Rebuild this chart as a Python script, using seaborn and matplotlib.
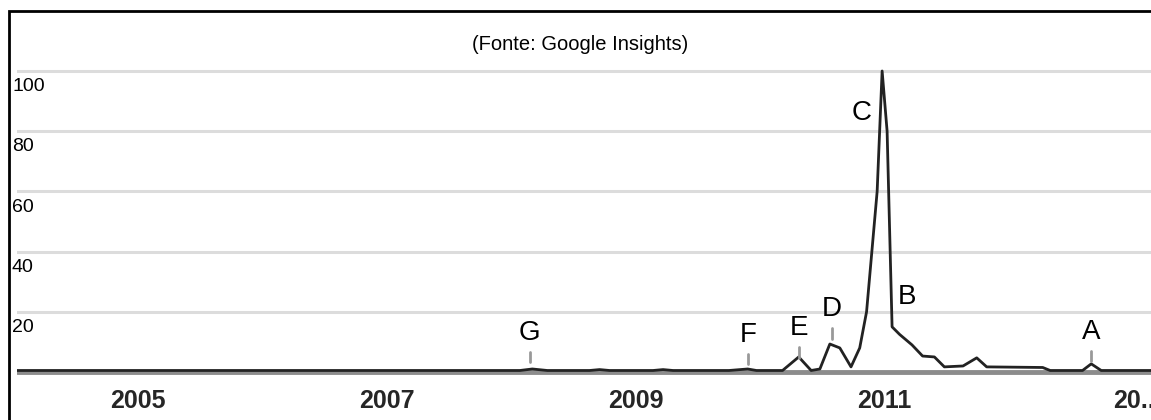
import matplotlib
matplotlib.use('Agg')
import matplotlib.pyplot as plt
import matplotlib.patches as patches
import matplotlib.transforms as mtransforms
from matplotlib import font_manager
import seaborn as sns
import pandas as pd

# search interest (Google Insights), x in decimal years
years = [2004.03, 2008.07, 2008.17, 2008.29, 2008.63, 2008.71, 2008.79,
         2009.14, 2009.22, 2009.30, 2009.75, 2009.90, 2009.97, 2010.18,
         2010.31, 2010.41, 2010.48, 2010.56, 2010.64, 2010.73, 2010.80,
         2010.855, 2010.94, 2010.98, 2011.02, 2011.06, 2011.12, 2011.22,
         2011.305, 2011.40, 2011.48, 2011.63, 2011.74, 2011.82, 2012.27,
         2012.33, 2012.59, 2012.66, 2012.74, 2013.14]
interest = [0.5, 0.5, 1.0, 0.5, 0.5, 0.8, 0.5,
            0.5, 0.8, 0.5, 0.5, 1.0, 0.5, 0.5,
            5.0, 0.5, 1.0, 9.3, 8.0, 1.7, 8.0,
            20.0, 60.0, 100.0, 80.0, 15.0, 12.5, 9.0,
            5.3, 5.0, 1.7, 2.0, 4.7, 1.7, 1.5,
            0.5, 0.5, 2.7, 0.5, 0.5]

# lettered events
event_labels = ['G', 'F', 'E', 'D', 'C', 'B', 'A']
event_years = [2008.15, 2009.90, 2010.31, 2010.575, 2010.815, 2011.18, 2012.66]
event_text_y = [13, 12.3, 14.6, 20.9, 86, 25, 13.3]
event_has_tick = [True, True, True, True, False, False, True]

year_ticks = [2005, 2007, 2009, 2011, 2013]
year_labels = ['2005', '2007', '2009', '2011', '20..']
y_grid = [20, 40, 60, 80, 100]

df = pd.DataFrame({'year': years, 'interest': interest})

sns.set_style('white')
installed = {f.name for f in font_manager.fontManager.ttflist}
narrow = 'Liberation Sans Narrow' in installed
plt.rcParams['font.family'] = ['Liberation Sans Narrow' if narrow else 'Liberation Sans',
                               'DejaVu Sans']
big = 21 if narrow else 18

W, H = 1151, 420
fig = plt.figure(figsize=(W / 100, H / 100), dpi=100)
ax = fig.add_axes([17 / W, (H - 376) / H, 1 - 17 / W, 316 / H])

# outer frame
fig.patches.append(patches.Rectangle((9 / W, -0.1), 1.2, (H - 11) / H + 0.1,
                                     transform=fig.transFigure, fill=False,
                                     edgecolor='black', linewidth=2))

for g in y_grid:
    ax.axhline(g, color='#dcdcdc', linewidth=2.2, zorder=1)
ax.axhline(0, color='#8c8c8c', linewidth=3.5, zorder=2)

sns.lineplot(data=df, x='year', y='interest', ax=ax, color='#222222',
             linewidth=2, zorder=3)

ax.set_xlim(2004.03, 2013.14)
ax.set_ylim(-1.33, 103.65)
for s in ax.spines.values():
    s.set_visible(False)
ax.set_yticks([])
ax.set_xticks(year_ticks)
ax.set_xticklabels(year_labels, fontsize=big, fontweight='bold')
ax.tick_params(axis='x', length=0, pad=9)
ax.set_xlabel('')
ax.set_ylabel('')

# y labels just below the gridlines, at the left edge of the frame
trans = mtransforms.blended_transform_factory(fig.transFigure, ax.transData)
for g in y_grid:
    ax.text(12 / W, g - 2.4, str(g), transform=trans, ha='left', va='top',
            fontsize=14, color='black')

for lab, xv, yv, tick in zip(event_labels, event_years, event_text_y, event_has_tick):
    ax.text(xv, yv, lab, ha='center', va='center', fontsize=20, color='black', zorder=5)
    if tick:
        ax.plot([xv, xv], [yv - 9.8, yv - 6.2], color='#999999', linewidth=2, zorder=4)

fig.text(580 / W, 1 - 44 / H, '(Fonte: Google Insights)', ha='center', va='center',
         fontsize=14.5, color='black')

fig.savefig('out.png', dpi=100)
